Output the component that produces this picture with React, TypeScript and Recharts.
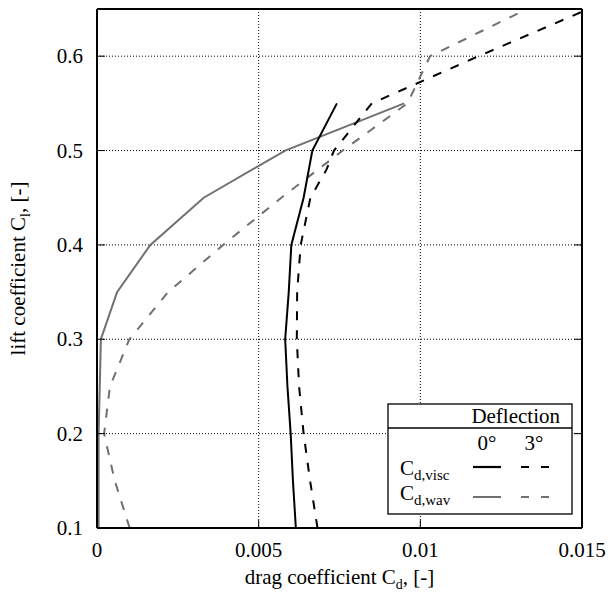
import React from 'react';
import { LineChart, Line, XAxis, YAxis, CartesianGrid } from 'recharts';

// Cd,visc at 0° deflection
const clVisc0 = [0.1, 0.15, 0.2, 0.25, 0.3, 0.35, 0.4, 0.45, 0.5, 0.55];
const cdVisc0 = [0.00615, 0.00606, 0.00599, 0.00589, 0.00582, 0.00593, 0.00601, 0.00639, 0.00666, 0.00742];
// Cd,visc at 3° deflection
const clVisc3 = [0.1, 0.15, 0.2, 0.25, 0.3, 0.35, 0.4, 0.45, 0.48, 0.5, 0.55, 0.6, 0.65];
const cdVisc3 = [0.00682, 0.00659, 0.00639, 0.00625, 0.00618, 0.00619, 0.0063, 0.0066, 0.0071, 0.00733, 0.0085, 0.0118, 0.0152];
// Cd,wav at 0° deflection
const clWav0 = [0.1, 0.2, 0.3, 0.35, 0.4, 0.45, 0.5, 0.55];
const cdWav0 = [0.00005, 0.00005, 0.00012, 0.00062, 0.00165, 0.0033, 0.00582, 0.0095];
// Cd,wav at 3° deflection
const clWav3 = [0.1, 0.15, 0.2, 0.25, 0.3, 0.35, 0.4, 0.45, 0.5, 0.55, 0.6, 0.65];
const cdWav3 = [0.00101, 0.00055, 0.00022, 0.0004, 0.001, 0.0022, 0.0039, 0.0057, 0.0076, 0.0096, 0.0103, 0.0133];

const xTicks = [0, 0.005, 0.01, 0.015];
const yTicks = [0.1, 0.2, 0.3, 0.4, 0.5, 0.6];
const xDomain: [number, number] = [0, 0.015];
const yDomain: [number, number] = [0.1, 0.65];

const toRows = (cl: number[], cd: number[]) => cl.map((v, i) => ({ cl: v, cd: cd[i] }));
const visc0 = toRows(clVisc0, cdVisc0);
const visc3 = toRows(clVisc3, cdVisc3);
const wav0 = toRows(clWav0, cdWav0);
const wav3 = toRows(clWav3, cdWav3);

const FONT = 'Liberation Serif, Times New Roman, serif';
const FS = 21;
const GREY = '#707070';
const DASH = '9 10';
const txt = { fontFamily: FONT, fontSize: FS, fill: '#000', fontWeight: 400 } as const;

const BottomTick = (p: any) => (
  <text x={p.x} y={p.y + 37} textAnchor="middle" fontFamily={FONT} fontSize={FS} style={txt}>
    <tspan>{String(p.payload.value)}</tspan>
  </text>
);
const LeftTick = (p: any) => (
  <text x={p.x - 22} y={p.y + 7} textAnchor="end" fontFamily={FONT} fontSize={FS} style={txt}>
    <tspan>{String(p.payload.value)}</tspan>
  </text>
);
const NoTick = () => <g />;

const XTitle = (p: any) => {
  const vb = p.viewBox || {};
  const cx = vb.x + vb.width / 2;
  return (
    <text x={cx} y={584} textAnchor="middle" style={txt}>
      <tspan>drag coefficient C</tspan>
      <tspan dy={5} style={{ fontSize: 14 }}>d</tspan>
      <tspan dy={-5}>, [-]</tspan>
    </text>
  );
};
const YTitle = (p: any) => {
  const vb = p.viewBox || {};
  const cy = vb.y + vb.height / 2;
  return (
    <text x={25} y={cy} transform={`rotate(-90 25 ${cy})`} textAnchor="middle" style={txt}>
      <tspan>lift coefficient C</tspan>
      <tspan dy={5} style={{ fontSize: 14 }}>l</tspan>
      <tspan dy={-5}>, [-]</tspan>
    </text>
  );
};

const axisLineStyle = { stroke: '#000', strokeWidth: 2 };
const tickLineStyle = { stroke: '#000', strokeWidth: 1 };

const Legend = () => (
  <svg width={608} height={596} style={{ position: 'absolute', left: 0, top: 0, pointerEvents: 'none' }}>
    <rect x={388} y={404} width={184} height={110} fill="#fff" stroke="#000" strokeWidth={1.3} />
    <line x1={388} y1={428} x2={572} y2={428} stroke="#000" strokeWidth={1.3} />
    <text x={560} y={423} textAnchor="end" fontFamily={FONT} style={txt}><tspan>Deflection</tspan></text>
    <text x={487} y={450} textAnchor="middle" fontFamily={FONT} style={txt}><tspan>0°</tspan></text>
    <text x={534} y={450} textAnchor="middle" fontFamily={FONT} style={txt}><tspan>3°</tspan></text>
    <text x={400} y={475} style={txt}>
      <tspan>C</tspan>
      <tspan dy={5} style={{ fontSize: 15 }}>d,visc</tspan>
    </text>
    <text x={400} y={500} style={txt}>
      <tspan>C</tspan>
      <tspan dy={5} style={{ fontSize: 15 }}>d,wav</tspan>
    </text>
    <line x1={473} y1={467} x2={501} y2={467} stroke="#000" strokeWidth={2.2} />
    <line x1={521} y1={467} x2={549} y2={467} stroke="#000" strokeWidth={2.2} strokeDasharray="8 12" />
    <line x1={473} y1={497} x2={501} y2={497} stroke={GREY} strokeWidth={2} />
    <line x1={521} y1={497} x2={549} y2={497} stroke={GREY} strokeWidth={2} strokeDasharray="8 12" />
  </svg>
);

export default function App() {
  return (
    <div style={{ position: 'absolute', left: 0, top: 0, width: 608, height: 596, background: '#fff', fontFamily: FONT }}>
      <LineChart width={608} height={596} margin={{ top: 8, right: 25, bottom: 0, left: 0 }} style={{ fontFamily: FONT }}>
        <CartesianGrid xAxisId="x" yAxisId="y" stroke="#000" strokeDasharray="1 2" strokeWidth={1} />
        <XAxis
          xAxisId="x"
          type="number"
          dataKey="cd"
          domain={xDomain}
          ticks={xTicks}
          allowDataOverflow
          height={68}
          tickSize={-8}
          tickMargin={0}
          tick={BottomTick}
          axisLine={axisLineStyle}
          tickLine={tickLineStyle}
          label={<XTitle />}
        />
        <XAxis
          xAxisId="top"
          orientation="top"
          type="number"
          domain={xDomain}
          ticks={xTicks}
          allowDataOverflow
          height={1}
          tickSize={-8}
          tick={NoTick}
          axisLine={axisLineStyle}
          tickLine={tickLineStyle}
        />
        <YAxis
          yAxisId="y"
          type="number"
          domain={yDomain}
          ticks={yTicks}
          allowDataOverflow
          width={97}
          tickSize={-8}
          tickMargin={0}
          tick={LeftTick}
          axisLine={axisLineStyle}
          tickLine={tickLineStyle}
          label={<YTitle />}
        />
        <YAxis
          yAxisId="right"
          orientation="right"
          type="number"
          domain={yDomain}
          ticks={yTicks}
          allowDataOverflow
          width={1}
          tickSize={-8}
          tick={NoTick}
          axisLine={axisLineStyle}
          tickLine={tickLineStyle}
        />
        <Line xAxisId="x" yAxisId="y" data={wav0} dataKey="cl" type="linear" stroke={GREY} strokeWidth={2} dot={false} activeDot={false} isAnimationActive={false} />
        <Line xAxisId="x" yAxisId="y" data={wav3} dataKey="cl" type="linear" stroke={GREY} strokeWidth={2} strokeDasharray={DASH} dot={false} activeDot={false} isAnimationActive={false} />
        <Line xAxisId="x" yAxisId="y" data={visc0} dataKey="cl" type="linear" stroke="#000" strokeWidth={2} dot={false} activeDot={false} isAnimationActive={false} />
        <Line xAxisId="x" yAxisId="y" data={visc3} dataKey="cl" type="linear" stroke="#000" strokeWidth={2} strokeDasharray={DASH} dot={false} activeDot={false} isAnimationActive={false} />
      </LineChart>
      <Legend />
    </div>
  );
}
